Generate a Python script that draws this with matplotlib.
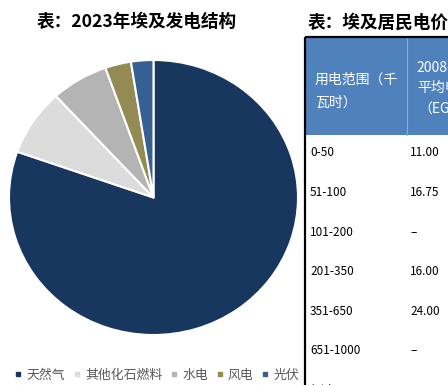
import matplotlib.pyplot as plt
from matplotlib.lines import Line2D
from matplotlib.patches import Rectangle

plt.rcParams['font.family'] = ['Noto Sans CJK SC', 'DejaVu Sans']

# pie data (share of generation, %)
sources = ["天然气", "其他化石燃料", "水电", "风电", "光伏"]
shares = [80.4, 7.8, 6.4, 2.9, 2.5]
colors = ["#17375E", "#DCDCDC", "#B4B4B4", "#948A54", "#376092"]

# tariff table (cut off at the right edge in the source)
header_col1 = ["用电范围（千", "瓦时）"]
header_col2 = ["2008-2014年", "平均电价", "（EGP/千瓦时）"]
ranges = ["0-50", "51-100", "101-200", "201-350", "351-650", "651-1000", "超过1000"]
prices = ["11.00", "16.75", "–", "16.00", "24.00", "–", "40.00"]

W, H = 448, 385
fig = plt.figure(figsize=(W / 100, H / 100), dpi=100)

# background axes in pixel coordinates for the table and titles
bg = fig.add_axes([0, 0, 1, 1])
bg.set_xlim(0, W)
bg.set_ylim(H, 0)
bg.axis("off")

bg.text(37, 22, "表：2023年埃及发电结构", fontsize=12.7, fontweight="bold",
        va="center", ha="left")
bg.text(308, 23, "表：埃及居民电价", fontsize=12.7, fontweight="bold",
        va="center", ha="left")

# table header
bg.add_patch(Rectangle((305, 37), 200, 98, facecolor="#4F81BD", edgecolor="none"))
bg.plot([407, 407], [37, 135], color="#8FAAD6", lw=0.8)
bg.plot([305, 305], [37, H + 5], color="black", lw=1.6, solid_capstyle="butt")
bg.plot([305, W + 5], [37, 37], color="black", lw=1.6, solid_capstyle="butt")

for i, t in enumerate(header_col1):
    bg.text(315, 80 + i * 23, t, fontsize=10, color="white", va="center")
for i, t in enumerate(header_col2):
    bg.text(416 + i, 68 + i * 20, t, fontsize=10, color="white", va="center")

for i, (r, p) in enumerate(zip(ranges, prices)):
    y = 153 + i * 39.6
    bg.text(310, y, r, fontsize=8.5, color="black", va="center")
    bg.text(410, y, p, fontsize=8.5, color="black", va="center")

# pie (slightly wider than tall, as in the source)
ax = fig.add_axes([9 / W, 50 / H, 289 / W, 275 / H])
ax.pie(shares, colors=colors, startangle=90, counterclock=False, radius=1,
       wedgeprops=dict(edgecolor="white", linewidth=1.5))
ax.set_xlim(-1, 1)
ax.set_ylim(-1, 1)
ax.set_aspect("auto")

handles = [Line2D([], [], marker="s", linestyle="none", markersize=3.5,
                  markerfacecolor=c, markeredgecolor=c) for c in colors]
fig.legend(handles, sources, loc="center left", bbox_to_anchor=(14 / W, 1 - 375 / H),
           ncol=5, frameon=False, fontsize=9.3, handlelength=0.6,
           handletextpad=0.35, columnspacing=0.6, labelcolor="#595959",
           borderaxespad=0, borderpad=0)

plt.savefig("out.png", dpi=100)
plt.close(fig)
